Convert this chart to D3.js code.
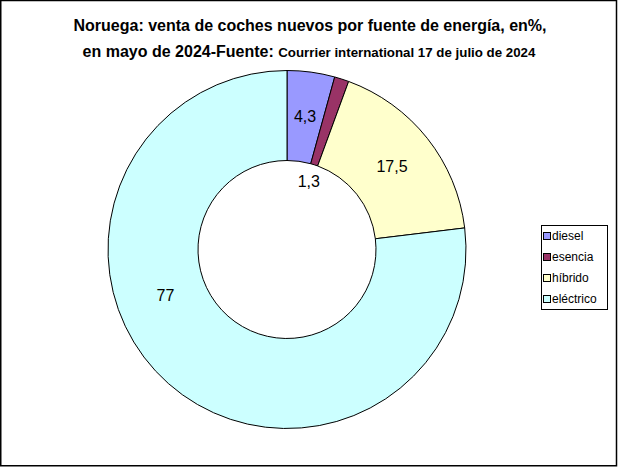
<!DOCTYPE html>
<html><head><meta charset="utf-8">
<script src="https://cdn.jsdelivr.net/npm/d3@7"></script>
<style>body{margin:0;background:#fff}svg{display:block}text{font-family:Arial,"Liberation Sans",sans-serif}</style>
</head><body>
<script>
const categories = ["diesel", "esencia", "híbrido", "eléctrico"];
const values = [4.3, 1.3, 17.5, 77];
const valueLabels = ["4,3", "1,3", "17,5", "77"];
const colors = ["#9999FF", "#993366", "#FFFFCC", "#CCFFFF"];
const titleLine1 = "Noruega: venta de coches nuevos por fuente de energía, en%,";
const titleLine2a = "en mayo de 2024-Fuente: ";
const titleLine2b = "Courrier international 17 de julio de 2024";

const W = 619, H = 467;
const svg = d3.select("body").append("svg").attr("width", W).attr("height", H);
svg.append("rect").attr("x", 0.75).attr("y", 0.5).attr("width", 615.75).attr("height", 465.25)
  .attr("fill", "#fff").attr("stroke", "#000").attr("stroke-width", 1.5);

svg.append("text").attr("x", 310).attr("y", 31).attr("text-anchor", "middle")
  .style("font-size", "16px").style("font-weight", "bold").text(titleLine1);
const t2 = svg.append("text").attr("x", 309).attr("y", 57).attr("text-anchor", "middle")
  .style("font-weight", "bold");
t2.append("tspan").style("font-size", "16px").text(titleLine2a);
t2.append("tspan").style("font-size", "13.3px").text(titleLine2b);

const cx = 287, cy = 249.5, R = 179, r = 89;
const pie = d3.pie().sort(null).value(d => d)(values);
const arc = d3.arc().innerRadius(r).outerRadius(R);
const g = svg.append("g").attr("transform", `translate(${cx},${cy})`);
g.selectAll("path").data(pie).join("path")
  .attr("d", arc).attr("fill", (d, i) => colors[i]).attr("stroke", "#000").attr("stroke-width", 1);

const total = d3.sum(values);
const maxV = d3.max(values);
g.selectAll("text.lbl").data(pie).join("text").attr("class", "lbl")
  .attr("text-anchor", "middle").attr("dominant-baseline", "central")
  .style("font-size", "16px")
  .attr("transform", d => {
    let a = (d.startAngle + d.endAngle) / 2, rad = (r + R) / 2;
    if (d.value / total < 0.02) rad = r * 0.8;
    if (d.value === maxV) { a = d.startAngle + 0.6 * (d.endAngle - d.startAngle); rad = 130; }
    return `translate(${rad * Math.sin(a)},${-rad * Math.cos(a)})`;
  })
  .text((d, i) => valueLabels[i]);

const lg = svg.append("g").attr("transform", "translate(541,225)");
lg.append("rect").attr("x", 0.5).attr("y", 0.5).attr("width", 66).attr("height", 84)
  .attr("fill", "#fff").attr("stroke", "#000");
const items = lg.selectAll("g").data(categories).join("g")
  .attr("transform", (d, i) => `translate(0,${11 + i * 21})`);
items.append("rect").attr("x", 2.5).attr("y", -3.5).attr("width", 7).attr("height", 7)
  .attr("fill", (d, i) => colors[i]).attr("stroke", "#000");
items.append("text").attr("x", 11).attr("y", 0).attr("dominant-baseline", "central")
  .style("font-size", "12px").text(d => d);
</script>
</body></html>
